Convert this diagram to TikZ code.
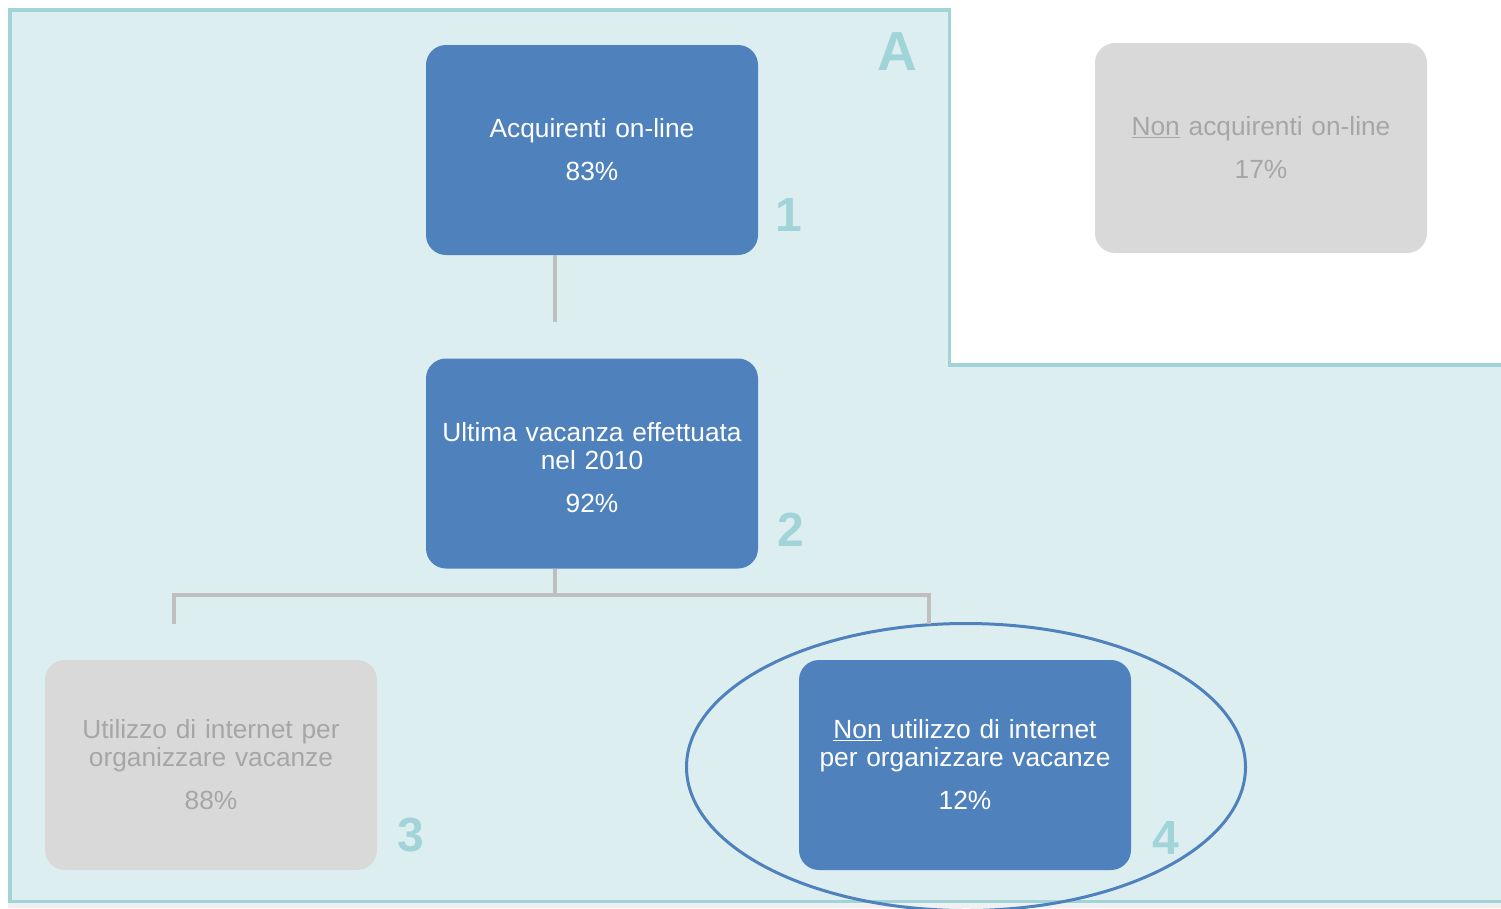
\documentclass[tikz,border=0pt]{standalone}
\usepackage{fontspec}
\setmainfont{Liberation Sans}
\usetikzlibrary{shapes.geometric}
\definecolor{panelfill}{HTML}{DDEEF1}
\definecolor{panelline}{HTML}{A0D4D8}
\definecolor{boxblue}{HTML}{4F81BD}
\definecolor{boxgray}{HTML}{D9D9D9}
\definecolor{textgray}{HTML}{A6A6A6}
\definecolor{linkgray}{HTML}{BFBFBF}
\definecolor{stripgray}{HTML}{F0F0F0}
\tikzset{
  base/.style={rectangle, rounded corners=20pt, minimum width=332pt, minimum height=210pt,
    text width=320pt, align=center, inner sep=0pt,
    font=\fontsize{26.3}{28}\selectfont},
  bluebox/.style={base, fill=boxblue, text=white},
  graybox/.style={base, fill=boxgray, text=textgray},
  num/.style={inner sep=0pt, text=panelline, font=\fontsize{48}{48}\selectfont\bfseries},
  link/.style={draw=linkgray, line width=4pt},
}
\begin{document}
\begin{tikzpicture}[x=1pt,y=-1pt]
\useasboundingbox (0,0) rectangle (1501,908);
\fill[white] (0,0) rectangle (1501,908);
\fill[stripgray] (8,903) rectangle (1501,908);
\draw[fill=panelfill, draw=panelline, line width=3.5pt]
  (10,10) -- (949.5,10) -- (949.5,365) -- (1505,365) -- (1505,901.5) -- (10,901.5) -- cycle;

\node[bluebox] (b1) at (592,150) {Acquirenti on-line\\[15pt]83\%};
\node[graybox] (b0) at (1261,148) {\underline{Non} acquirenti on-line\\[15pt]17\%};
\node[bluebox] (b2) at (592,463.5) {\rule{0pt}{27pt}Ultima vacanza effettuata\\nel 2010\\[15pt]92\%};
\node[graybox] (b3) at (211,765) {Utilizzo di internet per\\organizzare vacanze\\[15pt]88\%};
\node[bluebox] (b4) at (965,765) {\underline{Non} utilizzo di internet\\per organizzare vacanze\\[15pt]12\%};

\node[ellipse, draw=boxblue, line width=3pt, minimum width=559pt, minimum height=287pt, inner sep=0pt] (ell) at (966,767) {};

\coordinate (c1) at (555,322);
\coordinate (j) at (555,595);
\coordinate (l3) at (174,624);
\coordinate (l4) at (929,624);
\draw[link] (b1.south -| c1) -- (c1);
\draw[link] (b2.south -| j) -- (j);
\draw[link] (l3) |- (j) -| (l4);

\node[num] (n1) at (789,214.5) {1};
\node[num] (n2) at (791,530) {2};
\node[num] (n3) at (411,835) {3};
\node[num] (n4) at (1166,838) {4};
\node[num, font=\fontsize{55}{55}\selectfont\bfseries] (nA) at (897,52) {A};
\end{tikzpicture}
\end{document}
